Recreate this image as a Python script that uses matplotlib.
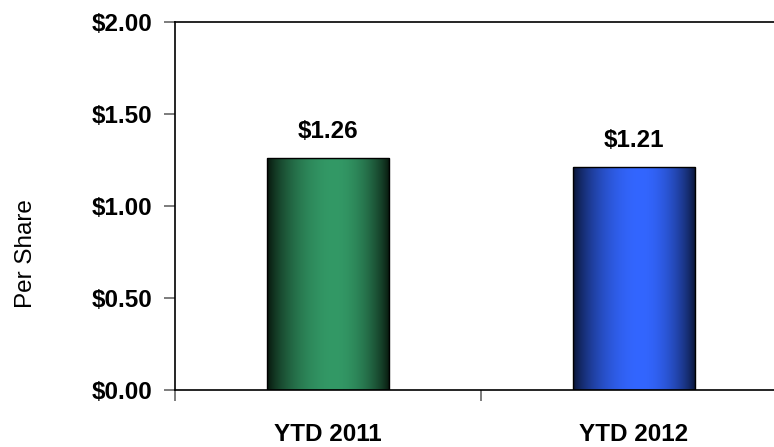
import numpy as np
import matplotlib
matplotlib.use("Agg")
import matplotlib.pyplot as plt
from matplotlib.colors import LinearSegmentedColormap, to_rgb
from matplotlib.patches import Rectangle

plt.rcParams['font.family'] = ['Liberation Sans', 'DejaVu Sans']

categories = ["YTD 2011", "YTD 2012"]
values = [1.26, 1.21]
value_labels = ["$1.26", "$1.21"]
light_colors = ["#339966", "#3366FF"]
dark_colors = ["#061209", "#08122f"]
yticks = [0.0, 0.5, 1.0, 1.5, 2.0]
ytick_labels = ["$0.00", "$0.50", "$1.00", "$1.50", "$2.00"]


def shade_cmap(name, dark, light, peak=0.55, power=0.75):
    d = np.array(to_rgb(dark))
    l = np.array(to_rgb(light))
    ts = np.linspace(0, 1, 64)
    stops = []
    for t in ts:
        if t <= peak:
            u = t / peak
        else:
            u = (1 - t) / (1 - peak)
        w = np.sin(u * np.pi / 2) ** power
        stops.append((t, tuple(d + (l - d) * w)))
    return LinearSegmentedColormap.from_list(name, stops)


fig = plt.figure(figsize=(7.74, 4.47), dpi=100)
ax = fig.add_axes([0.2261, 0.1275, 0.7907, 0.8233])
ax.set_xlim(-0.5, 1.5)
ax.set_ylim(0, 2.0)

bw = 0.40
x = np.arange(len(categories))
grad = np.linspace(0, 1, 256).reshape(1, -1)
grad = np.vstack([grad, grad])
for i, (xi, v) in enumerate(zip(x, values)):
    cmap = shade_cmap(f"g{i}", dark_colors[i], light_colors[i])
    im = ax.imshow(grad, cmap=cmap, aspect='auto', interpolation='bilinear',
                   extent=(xi - bw / 2, xi + bw / 2, 0, v), zorder=2)
    rect = Rectangle((xi - bw / 2, 0), bw, v, facecolor='none',
                     edgecolor='black', linewidth=1.0, zorder=3)
    ax.add_patch(rect)
    im.set_clip_path(rect)
    ax.annotate(value_labels[i], (xi, v), xytext=(0, 11), textcoords='offset points',
                ha='center', va='bottom', fontsize=17.5, fontweight='bold')

ax.set_xlim(-0.5, 1.5)
ax.set_ylim(0, 2.0)

ax.set_yticks(yticks)
ax.set_yticklabels(ytick_labels, fontsize=17.5, fontweight='bold')
ax.tick_params(axis='y', direction='out', length=8, width=1.2, color='#666666', pad=8)

ax.set_xticks([-0.5, 0.5, 1.5])
ax.set_xticklabels([])
ax.set_xticks(x, minor=True)
ax.set_xticklabels(categories, minor=True, fontsize=17.5, fontweight='bold')
ax.tick_params(axis='x', which='major', direction='out', length=8, width=1.2, color='#666666')
ax.tick_params(axis='x', which='minor', length=0, pad=24)

ax.set_ylabel("Per Share", fontsize=17.5)
ax.yaxis.set_label_coords(-0.2255, 0.372)

for s in ['left', 'bottom', 'top']:
    ax.spines[s].set_color('black')
    ax.spines[s].set_linewidth(1.2)
ax.spines['right'].set_visible(False)

fig.savefig("out.png", dpi=100)
